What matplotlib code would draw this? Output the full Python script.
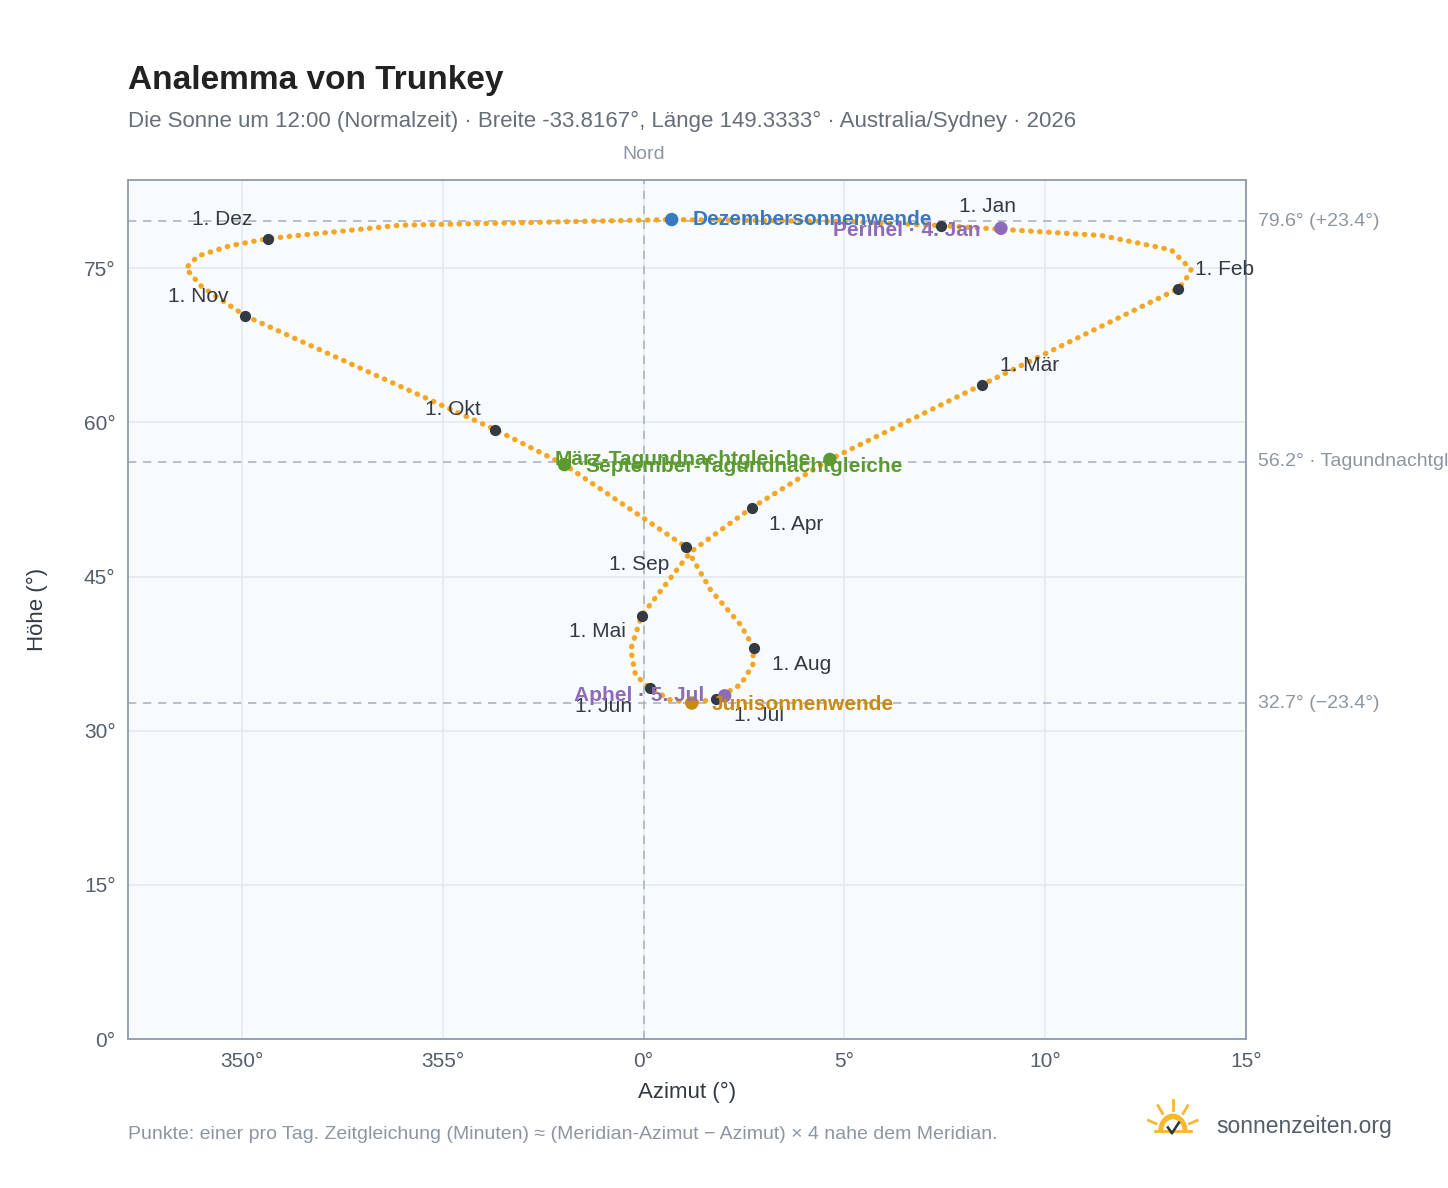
import numpy as np
import matplotlib.pyplot as plt
from matplotlib.patches import Wedge

plt.rcParams['font.family'] = ['Liberation Sans', 'DejaVu Sans']

# path of the sun over the year (azimuth offset from north, altitude)
path_az = [7.41, 11.4, 13.14, 13.64, 13.5, 13.32, 8.43, 4.64, 2.69, 1.17, -0.05, -0.32, -0.2, 0.15,
           0.67, 1.2, 1.80, 2.42, 2.72, 2.74, 2.42, 1.67, 1.05, -1.97, -3.69, -9.93, -11.0, -11.4,
           -11.1, -10.3, -9.35, -6.06, 0.70, 5.16, 7.41]
path_alt = [79.16, 78.2, 76.8, 74.9, 73.9, 73.03, 63.68, 56.4, 51.70, 47.4, 41.19, 37.9, 35.4, 34.18,
            33.0, 32.7, 33.1, 34.5, 36.4, 38.07, 40.3, 43.7, 47.9, 55.9, 59.3, 70.4, 73.2, 75.0,
            76.2, 77.2, 77.9, 79.2, 79.75, 79.55, 79.16]

months = ["1. Jan", "1. Feb", "1. Mär", "1. Apr", "1. Mai", "1. Jun",
          "1. Jul", "1. Aug", "1. Sep", "1. Okt", "1. Nov", "1. Dez"]
month_az = [7.41, 13.32, 8.43, 2.69, -0.05, 0.15, 1.80, 2.74, 1.05, -3.69, -9.93, -9.35]
month_alt = [79.16, 73.03, 63.68, 51.70, 41.19, 34.18, 33.1, 38.07, 47.9, 59.3, 70.4, 77.9]
# label offsets in pixels
month_off = [(18, 19), (17, 19), (18, 19), (17, -17), (-16, -16), (-17, -19),
             (18, -17), (18, -17), (-16, -18), (-15, 20), (-16, 19), (-16, 19)]
month_ha = ["left", "left", "left", "left", "right", "right",
            "left", "left", "right", "right", "right", "right"]

events = ["Dezembersonnenwende", "Perihel · 4. Jan", "März-Tagundnachtgleiche",
          "September-Tagundnachtgleiche", "Junisonnenwende", "Aphel · 5. Jul"]
ev_az = [0.70, 8.9, 4.64, -1.97, 1.2, 2.02]
ev_alt = [79.75, 78.9, 56.4, 55.9, 32.7, 33.4]
ev_col = ["#3a78c2", "#8e6bb8", "#5a9a30", "#5a9a30", "#c98a10", "#8e6bb8"]
ev_off = [(21, 0), (-20, -2), (-19, 0), (21, -2), (20, -1), (-20, 0)]
ev_ha = ["left", "right", "right", "left", "left", "right"]

PX = 0.72  # points per pixel at dpi 100

fig = plt.figure(figsize=(14.48, 11.88), dpi=100)
ax = fig.add_axes([0.0884, 0.1254, 0.772, 0.7231])
ax.set_facecolor("#f8fbfe")
ax.set_xlim(-12.84, 15)
ax.set_ylim(0, 83.6)
ax.set_xticks([-10, -5, 0, 5, 10, 15])
ax.set_xticklabels(["350°", "355°", "0°", "5°", "10°", "15°"])
ax.set_yticks([0, 15, 30, 45, 60, 75])
ax.set_yticklabels(["0°", "15°", "30°", "45°", "60°", "75°"])
ax.grid(color="#e3e9ef", linewidth=1.2)
ax.set_axisbelow(True)
ax.tick_params(length=0, labelsize=15, colors="#555e6a", pad=9)
for s in ax.spines.values():
    s.set_color("#8d9bab")
    s.set_linewidth(1.3)
ax.set_xlabel("Azimut (°)", fontsize=16, color="#333a44", labelpad=8)
ax.set_ylabel("Höhe (°)", fontsize=16, color="#333a44", labelpad=26)

for lvl in (79.6, 56.2, 32.7):
    ax.axhline(lvl, color="#aab5c2", linestyle=(0, (5, 4)), linewidth=1.2)
ax.axvline(0, color="#aab5c2", linestyle=(0, (5, 4)), linewidth=1.2)
ax.text(0, 85.3, "Nord", ha="center", va="bottom", fontsize=14, color="#8d96a0", clip_on=False)
for lvl, txt in [(79.6, "79.6° (+23.4°)"), (56.2, "56.2° · Tagundnachtgleiche"), (32.7, "32.7° (−23.4°)")]:
    ax.text(15.3, lvl, txt, va="center", fontsize=14, color="#8d96a0", clip_on=False)

ax.plot(path_az, path_alt, color="#f5a623", linewidth=3.8, linestyle=(0, (0.1, 1.6)),
        dash_capstyle="round", zorder=3)
ax.scatter(month_az, month_alt, s=50, color="#343a44", zorder=5)
for m, x, y, o, ha in zip(months, month_az, month_alt, month_off, month_ha):
    ax.annotate(m, (x, y), xytext=(o[0] * PX, o[1] * PX), textcoords="offset points",
                fontsize=15, color="#333a44", ha=ha, va="center")
ax.scatter(ev_az, ev_alt, s=75, color=ev_col, zorder=6)
for e, x, y, c, o, ha in zip(events, ev_az, ev_alt, ev_col, ev_off, ev_ha):
    ax.annotate(e, (x, y), xytext=(o[0] * PX, o[1] * PX), textcoords="offset points", fontsize=15,
                color=c, fontweight="bold", ha=ha, va="center", zorder=7)

fig.text(0.0884, 0.925, "Analemma von Trunkey", fontsize=24, fontweight="bold", color="#222222")
fig.text(0.0884, 0.893, "Die Sonne um 12:00 (Normalzeit) · Breite -33.8167°, Länge 149.3333° · Australia/Sydney · 2026",
         fontsize=16, color="#666e78")
fig.text(0.0884, 0.041, "Punkte: einer pro Tag. Zeitgleichung (Minuten) ≈ (Meridian-Azimut − Azimut) × 4 nahe dem Meridian.",
         fontsize=14, color="#8d96a0")
fig.text(0.84, 0.052, "sonnenzeiten.org", fontsize=16.5, color="#555e6a", va="center")

# small sun logo
lx, ly = 0.81, 0.05
lax = fig.add_axes([lx - 0.022, ly - 0.01, 0.044, 0.04])
lax.set_xlim(-1.6, 1.6); lax.set_ylim(-0.4, 1.6); lax.axis("off")
lax.add_patch(Wedge((0, 0), 0.7, 0, 180, width=0.18, color="#f5b82e"))
for a in np.radians([20, 55, 90, 125, 160]):
    lax.plot([0.9 * np.cos(a), 1.3 * np.cos(a)], [0.9 * np.sin(a), 1.3 * np.sin(a)], color="#f5b82e", lw=2)
lax.plot([-0.9, 0.9], [0, 0], color="#f5b82e", lw=2)
lax.plot([-0.25, -0.05, 0.3], [0.15, -0.1, 0.35], color="#2a3340", lw=1.8)

fig.savefig("out.png", dpi=100)
